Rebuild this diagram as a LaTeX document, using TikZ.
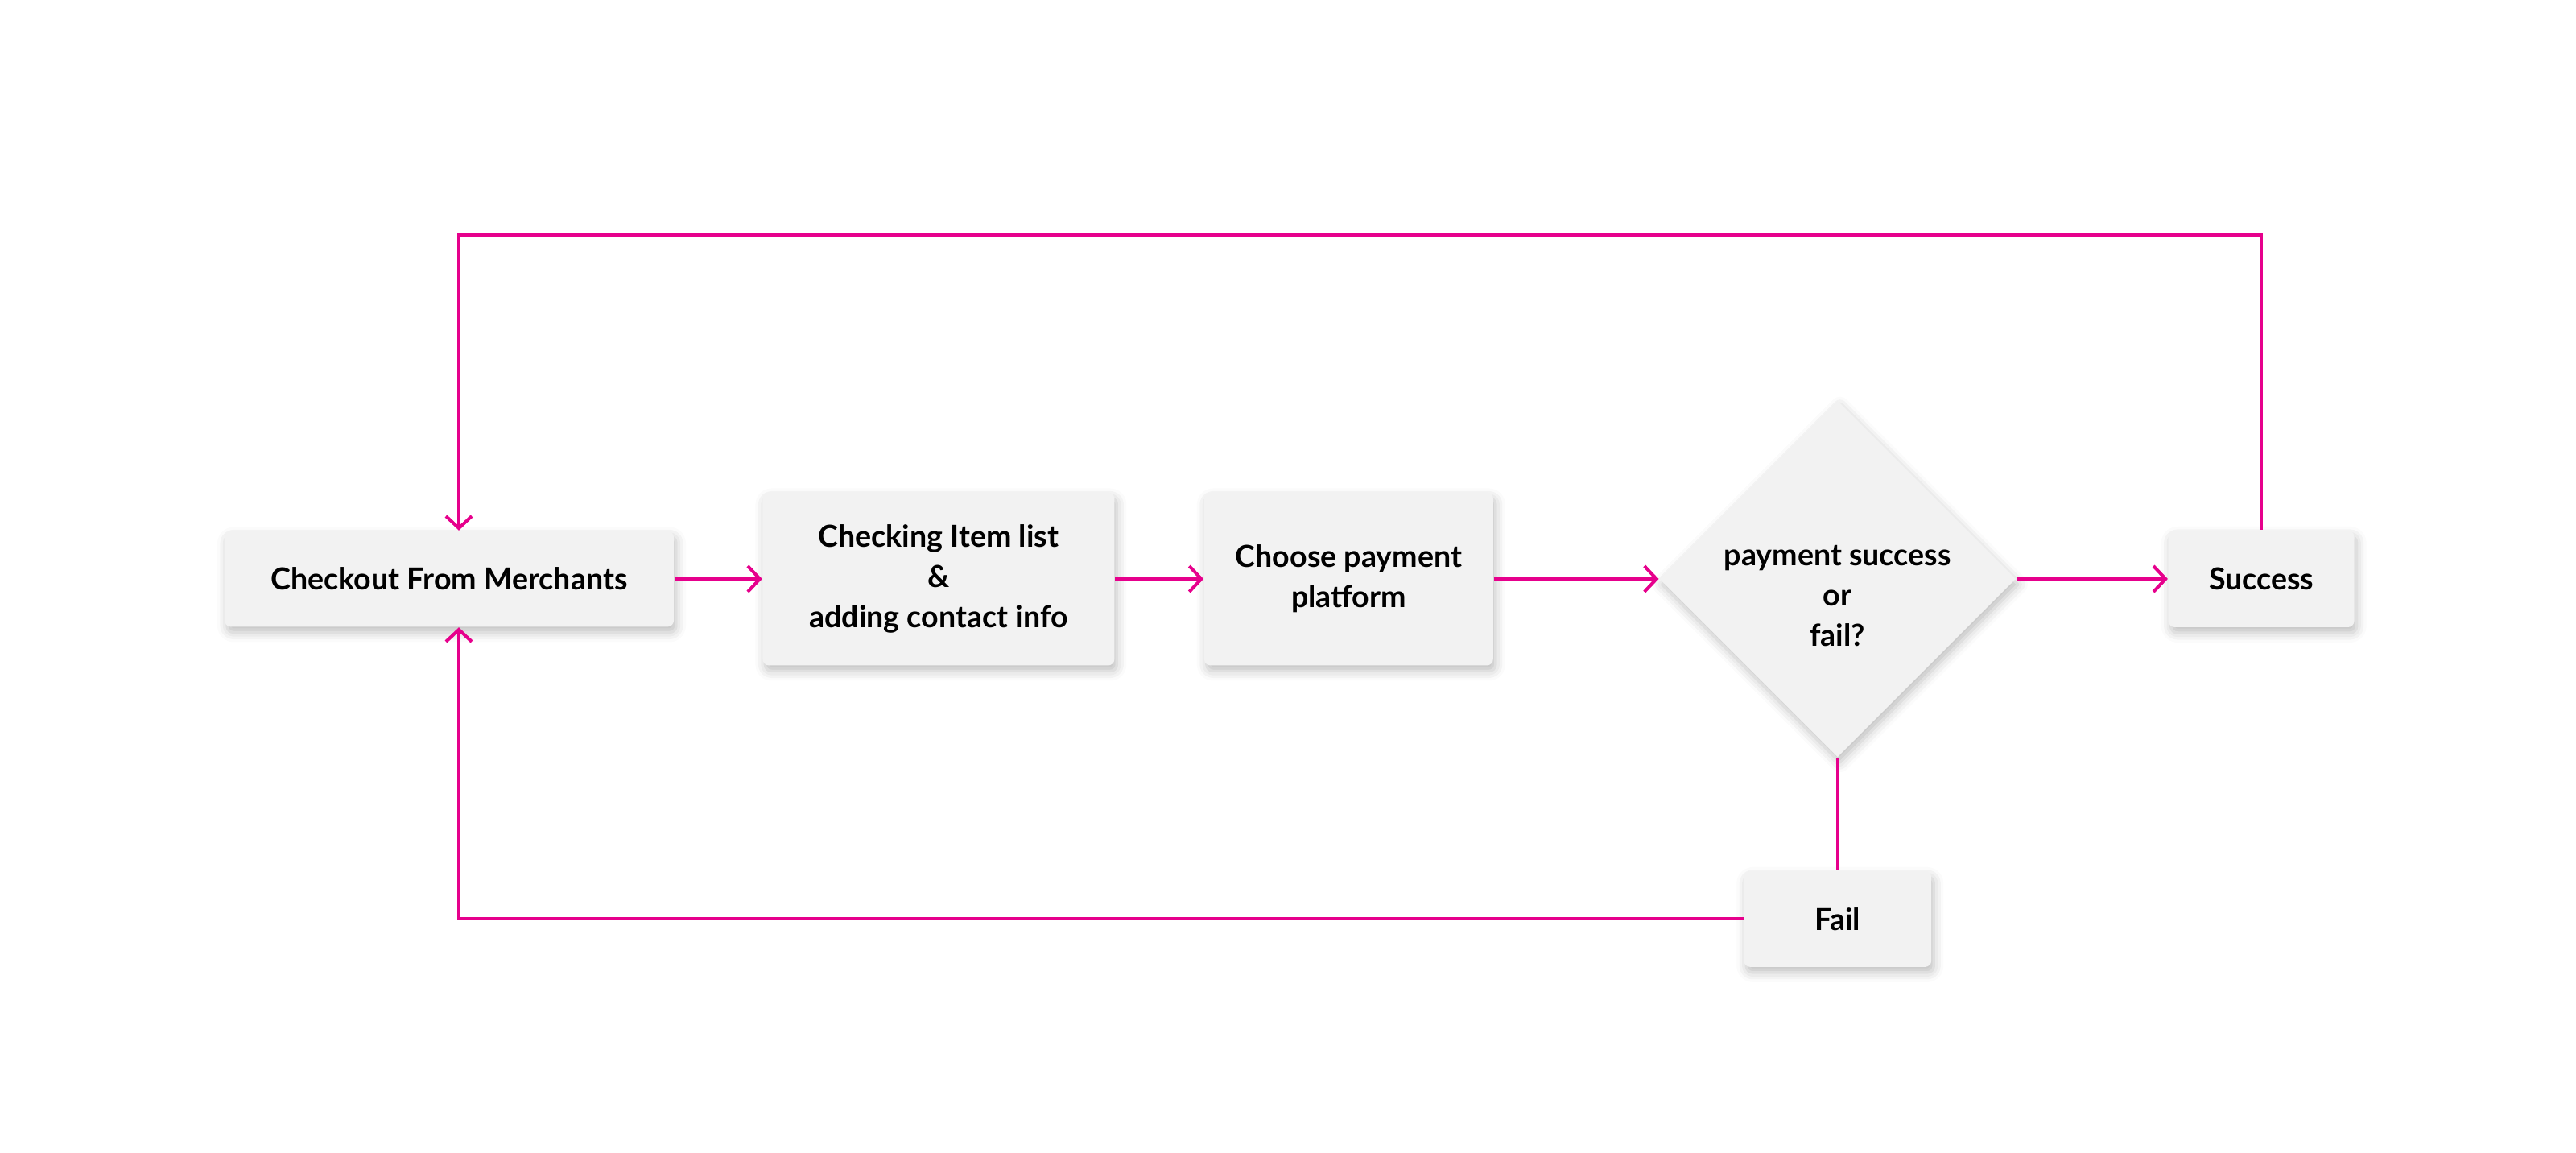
\documentclass[tikz,border=0pt]{standalone}
\usepackage{fontspec}
\setmainfont{Lato}
\usetikzlibrary{shapes.geometric,arrows.meta,calc,positioning,shadows.blur}
\definecolor{flowpink}{RGB}{230,0,140}
\definecolor{boxgray}{HTML}{F2F2F2}

\begin{document}
\begin{tikzpicture}[every node/.style={block},
  block/.style={rectangle,fill=boxgray,rounded corners=0.8mm,align=center,inner sep=0pt,
    font=\fontsize{10.7}{14.2}\selectfont\bfseries,
    blur shadow={shadow xshift=0.3mm,shadow yshift=-0.7mm,shadow blur radius=1.2mm,shadow opacity=25}},
  decision/.style={diamond,sharp corners,inner sep=-1.5mm,minimum size=4.43cm,aspect=1},
  flow/.style={draw=flowpink,line width=1.15pt},
  >={Straight Barb[length=1.5mm,width=3.2mm]}]

        \useasboundingbox (0,0) rectangle (32,14.32);

        \node (A) [minimum width=5.58cm,minimum height=1.19cm] at (5.58,7.13) {Checkout From Merchants};
        \node (B) [right = 1.09cm of A,minimum width=4.37cm,minimum height=2.15cm] {Checking Item list\\\&\\adding contact info};
        \node (C) [right = 1.1cm of B,minimum width=3.59cm,minimum height=2.15cm] {Choose payment\\platform};
        \node (D) [decision,right = 2.05cm of C] {\rule{0pt}{19pt}payment success\\or\\fail?};
        \node (E) [right = 1.88cm of D,minimum width=2.31cm,minimum height=1.2cm] {Success};
        \node (F) [below = 1.4cm of D,minimum width=2.33cm,minimum height=1.19cm] {Fail};

        \draw[flow,->] (A) -- (B);
        \draw[flow,->] (B) -- (C);
        \draw[flow,->] (C) -- (D);
        \draw[flow,->] (D) -- (E);
        \draw[flow] (D) -- (F);
        \draw[flow,->] (E.north) -- ++(0,3.66) -| ([xshift=1.2mm]A.north);
        \draw[flow,->] (F.west) -| ([xshift=1.2mm]A.south);
\end{tikzpicture}
\end{document}
